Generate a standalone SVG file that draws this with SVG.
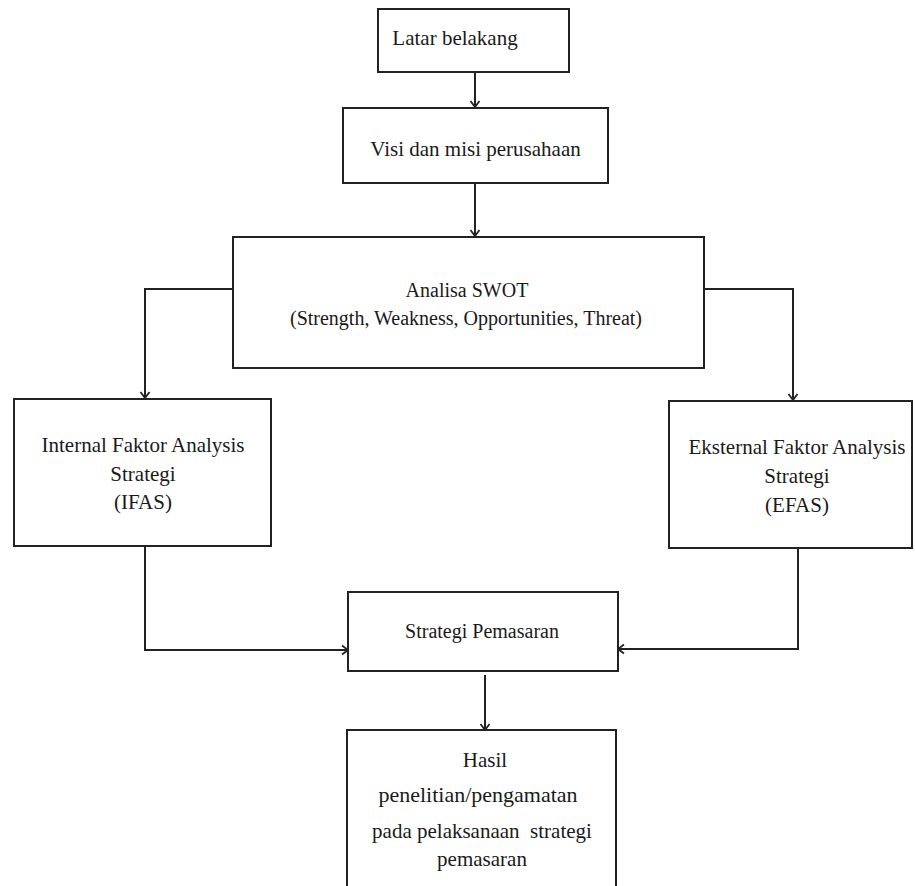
<svg xmlns="http://www.w3.org/2000/svg" width="915" height="886" viewBox="0 0 915 886">
<style>
.box{fill:#fff;stroke:#222;stroke-width:2}
.t{font-family:'Liberation Serif','DejaVu Serif',serif;font-size:21px;fill:#1a1a1a;text-anchor:middle}
.s{font-size:20px}
.c{fill:none;stroke:#222;stroke-width:2}
</style>
<defs>
<marker id="ah" markerWidth="10" markerHeight="12" refX="9" refY="6" orient="auto" markerUnits="userSpaceOnUse">
<path d="M3,1.5 L9,6 L3,10.5" fill="none" stroke="#222" stroke-width="1.8"/>
</marker>
</defs>
<rect width="915" height="886" fill="#fff"/>
<g id="connectors">
<path class="c" d="M475,72 V107" marker-end="url(#ah)"/>
<path class="c" d="M475,183 V236" marker-end="url(#ah)"/>
<path class="c" d="M233,289 H145 V398" marker-end="url(#ah)"/>
<path class="c" d="M704,289 H793 V400" marker-end="url(#ah)"/>
<path class="c" d="M145,546 V650 H348" marker-end="url(#ah)"/>
<path class="c" d="M798,548 V649 H618" marker-end="url(#ah)"/>
<path class="c" d="M485,675 V730" marker-end="url(#ah)"/>
</g>
<g id="latar">
<rect class="box" x="378" y="9" width="191" height="63"/>
<text class="t" x="455" y="45">Latar belakang</text>
</g>
<g id="visi">
<rect class="box" x="343" y="108" width="265" height="75"/>
<text class="t" x="475.5" y="156">Visi dan misi perusahaan</text>
</g>
<g id="swot">
<rect class="box" x="233" y="237" width="471" height="131"/>
<text class="t" x="467" y="297" style="font-size:20px">Analisa SWOT</text>
<text class="t" x="466" y="325" style="font-size:20px">(Strength, Weakness, Opportunities, Threat)</text>
</g>
<g id="ifas">
<rect class="box" x="14" y="399" width="257" height="147"/>
<text class="t" x="143" y="452">Internal Faktor Analysis</text>
<text class="t" x="143" y="481">Strategi</text>
<text class="t" x="143" y="509">(IFAS)</text>
</g>
<g id="efas">
<rect class="box" x="669" y="401" width="243" height="147"/>
<text class="t" x="797" y="454">Eksternal Faktor Analysis</text>
<text class="t" x="797" y="483">Strategi</text>
<text class="t" x="797" y="512">(EFAS)</text>
</g>
<g id="strategi">
<rect class="box" x="348" y="592" width="270" height="79"/>
<text class="t s" x="482" y="638">Strategi Pemasaran</text>
</g>
<g id="hasil">
<rect class="box" x="347" y="730" width="269" height="170"/>
<text class="t" x="485" y="767">Hasil</text>
<text class="t" x="478" y="802" style="font-size:22px">penelitian/pengamatan</text>
<text class="t" x="482" y="838" style="white-space:pre">pada pelaksanaan  strategi</text>
<text class="t" x="482" y="866">pemasaran</text>
</g>
</svg>
